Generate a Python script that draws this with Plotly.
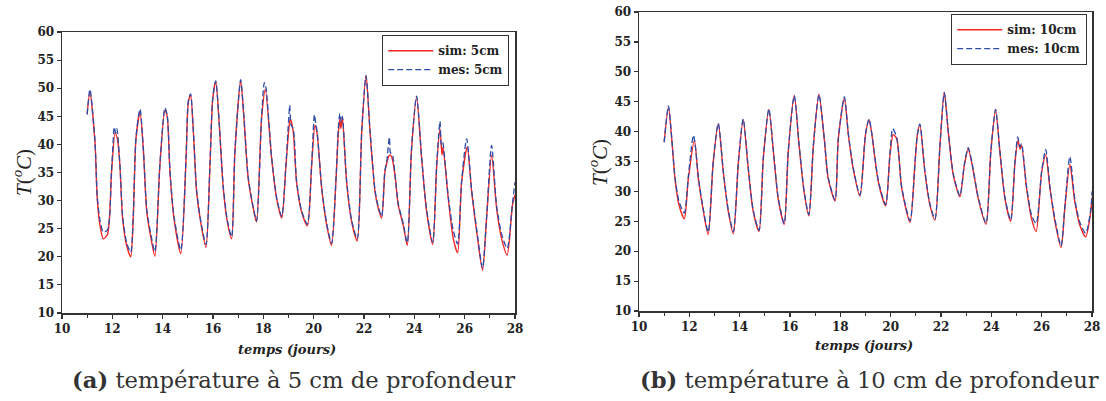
import plotly.graph_objects as go

# ---------------- data: 5 cm ----------------
sim5_t = [11.0, 11.11, 11.31, 11.40, 11.51, 11.64, 11.81, 11.97, 12.11, 12.20, 12.30, 12.41, 12.57, 12.73,
          12.83, 12.94, 13.10, 13.23, 13.37, 13.54, 13.69, 13.89, 14.09, 14.18, 14.29, 14.45, 14.72, 14.93,
          15.02, 15.11, 15.22, 15.35, 15.51, 15.72, 15.88, 15.99, 16.11, 16.25, 16.41, 16.57, 16.74, 16.87,
          17.10, 17.23, 17.40, 17.60, 17.73, 17.93, 18.08, 18.33, 18.53, 18.73, 18.90, 19.03, 19.08, 19.19,
          19.32, 19.52, 19.75, 19.92, 20.05, 20.14, 20.32, 20.52, 20.71, 20.89, 20.98, 21.04, 21.08, 21.14,
          21.31, 21.51, 21.73, 21.91, 22.08, 22.24, 22.44, 22.57, 22.70, 22.83, 22.90, 23.01, 23.10, 23.23,
          23.36, 23.56, 23.72, 23.89, 24.09, 24.29, 24.49, 24.73, 24.89, 25.02, 25.10, 25.14, 25.35, 25.55,
          25.72, 25.88, 26.10, 26.28, 26.48, 26.71, 26.87, 27.07, 27.27, 27.47, 27.69, 27.90, 28.0]
sim5_T = [45.5, 49.3, 40.4, 30.3, 25.6, 23.2, 24.0, 35.1, 42.0, 41.0, 36.3, 26.8, 22.0, 20.0,
          26.8, 41.0, 45.8, 39.2, 28.0, 23.2, 20.1, 36.3, 46.1, 45.0, 35.1, 26.8, 20.6, 37.5,
          47.5, 48.8, 42.2, 31.5, 26.2, 21.7, 36.3, 48.1, 51.2, 43.4, 32.1, 26.2, 23.2, 38.6,
          51.4, 44.6, 33.9, 28.6, 26.2, 44.6, 49.8, 37.5, 30.3, 26.9, 36.3, 43.5, 44.5, 42.2,
          33.3, 28.0, 25.5, 36.3, 43.4, 41.8, 32.1, 25.6, 22.0, 33.9, 42.0, 44.5, 42.8, 44.9,
          33.3, 26.2, 22.8, 42.2, 52.3, 42.2, 31.5, 28.6, 26.9, 35.1, 36.6, 38.1, 37.8, 34.5,
          29.2, 25.6, 22.0, 39.2, 48.4, 37.5, 28.0, 22.2, 36.3, 42.8, 38.1, 39.5, 30.3, 23.2,
          20.7, 33.3, 39.5, 31.5, 24.4, 17.6, 26.8, 38.1, 28.6, 23.2, 20.3, 29.2, 31.0]

mes5_t = [11.0, 11.11, 11.31, 11.40, 11.51, 11.64, 11.81, 11.97, 12.08, 12.13, 12.18, 12.30, 12.41, 12.57,
          12.73, 12.83, 12.94, 13.10, 13.23, 13.37, 13.54, 13.69, 13.89, 14.09, 14.18, 14.29, 14.45, 14.72,
          14.93, 15.02, 15.11, 15.22, 15.35, 15.51, 15.72, 15.88, 15.99, 16.11, 16.25, 16.41, 16.57, 16.74,
          16.87, 17.10, 17.23, 17.40, 17.60, 17.73, 17.93, 18.04, 18.10, 18.33, 18.53, 18.73, 18.90, 19.00,
          19.05, 19.10, 19.19, 19.32, 19.52, 19.75, 19.92, 20.03, 20.08, 20.14, 20.32, 20.52, 20.71, 20.89,
          20.98, 21.04, 21.09, 21.14, 21.31, 21.51, 21.73, 21.91, 22.08, 22.24, 22.44, 22.57, 22.70, 22.83,
          22.90, 23.01, 23.05, 23.12, 23.23, 23.36, 23.56, 23.72, 23.89, 24.09, 24.29, 24.49, 24.73, 24.89,
          25.02, 25.07, 25.12, 25.35, 25.55, 25.72, 25.88, 26.08, 26.28, 26.48, 26.71, 26.87, 27.07, 27.27,
          27.47, 27.69, 27.90, 28.0]
mes5_T = [45.3, 49.8, 40.6, 30.8, 26.5, 24.4, 24.8, 35.5, 43.1, 42.0, 42.8, 36.5, 27.2, 22.5,
          20.8, 27.0, 41.3, 46.3, 39.4, 28.3, 23.8, 20.9, 36.5, 46.5, 45.2, 35.3, 27.2, 21.2,
          37.8, 47.8, 49.0, 42.4, 31.8, 26.5, 22.2, 36.6, 48.3, 51.3, 43.6, 32.4, 26.5, 23.6,
          38.8, 51.5, 44.8, 34.1, 28.8, 26.4, 44.8, 51.0, 50.2, 37.7, 30.5, 27.2, 36.5, 44.0,
          47.0, 43.5, 42.8, 33.5, 28.2, 25.8, 36.5, 45.3, 43.8, 42.2, 32.3, 25.9, 22.4, 34.2,
          43.0, 45.5, 44.0, 45.0, 33.5, 26.5, 23.2, 42.4, 52.2, 42.4, 31.8, 28.9, 27.2, 35.3,
          36.8, 41.3, 38.5, 38.3, 34.8, 29.5, 25.9, 22.5, 39.4, 48.6, 37.7, 28.3, 22.6, 36.5,
          44.1, 40.0, 40.5, 30.6, 24.6, 22.3, 33.5, 41.0, 31.8, 24.8, 18.0, 27.0, 39.8, 29.0,
          24.0, 21.5, 29.5, 33.3]

# ---------------- data: 10 cm ----------------
sim10_t = [11.0, 11.17, 11.30, 11.43, 11.59, 11.80, 11.96, 12.20, 12.36, 12.56, 12.75, 12.95, 13.15, 13.35,
           13.55, 13.75, 13.95, 14.14, 14.34, 14.54, 14.77, 14.94, 15.16, 15.34, 15.53, 15.77, 15.93, 16.17,
           16.36, 16.56, 16.75, 16.93, 17.15, 17.36, 17.52, 17.79, 17.92, 18.16, 18.32, 18.51, 18.78, 19.00,
           19.14, 19.24, 19.51, 19.80, 19.97, 20.10, 20.24, 20.44, 20.77, 20.97, 21.06, 21.16, 21.36, 21.56,
           21.76, 21.96, 22.13, 22.29, 22.49, 22.75, 22.93, 23.08, 23.24, 23.48, 23.79, 23.98, 24.17, 24.34,
           24.54, 24.77, 24.94, 25.06, 25.14, 25.20, 25.40, 25.60, 25.78, 26.00, 26.16, 26.33, 26.53, 26.77,
           26.93, 27.12, 27.32, 27.52, 27.75, 27.95, 28.0]
sim10_T = [38.3, 44.1, 38.8, 32.1, 27.7, 25.4, 32.1, 38.5, 32.1, 26.6, 22.8, 34.9, 41.3, 33.2,
           26.6, 22.9, 34.9, 42.0, 33.8, 26.6, 23.3, 35.5, 43.7, 36.6, 28.8, 24.5, 36.6, 46.1,
           37.7, 29.9, 25.9, 37.7, 46.3, 38.8, 32.1, 28.4, 38.8, 45.6, 39.4, 33.8, 29.2, 39.5,
           42.0, 39.9, 31.6, 27.6, 36.0, 39.5, 38.8, 30.5, 24.8, 34.9, 39.4, 41.2, 33.2, 27.7,
           25.2, 37.7, 46.6, 39.9, 32.7, 29.1, 34.4, 37.1, 34.4, 28.8, 24.5, 36.6, 43.6, 36.6,
           28.8, 25.0, 34.9, 38.5, 37.1, 37.7, 30.5, 25.4, 23.3, 33.2, 36.1, 30.5, 24.9, 20.6,
           27.7, 34.5, 28.2, 24.3, 22.4, 26.6, 29.0]

mes10_t = [11.0, 11.17, 11.30, 11.43, 11.59, 11.80, 11.96, 12.16, 12.22, 12.36, 12.56, 12.75, 12.95, 13.15,
           13.35, 13.55, 13.75, 13.95, 14.14, 14.34, 14.54, 14.77, 14.94, 15.16, 15.34, 15.53, 15.77, 15.93,
           16.17, 16.36, 16.56, 16.75, 16.93, 17.15, 17.36, 17.52, 17.79, 17.92, 18.16, 18.32, 18.51, 18.78,
           19.00, 19.14, 19.24, 19.51, 19.80, 19.97, 20.08, 20.24, 20.44, 20.77, 20.97, 21.06, 21.16, 21.36,
           21.56, 21.76, 21.96, 22.13, 22.29, 22.49, 22.75, 22.93, 23.08, 23.24, 23.48, 23.79, 23.98, 24.17,
           24.34, 24.54, 24.77, 24.94, 25.05, 25.14, 25.20, 25.40, 25.60, 25.78, 26.00, 26.16, 26.33, 26.53,
           26.77, 26.93, 27.12, 27.32, 27.52, 27.75, 27.95, 28.0]
mes10_T = [38.2, 44.3, 39.0, 32.4, 28.3, 26.4, 32.5, 39.4, 38.3, 32.3, 26.9, 23.2, 35.0, 41.4,
           33.4, 26.8, 23.3, 35.0, 42.1, 34.0, 26.8, 23.5, 35.6, 43.8, 36.8, 29.0, 24.6, 36.7,
           46.0, 37.9, 30.1, 26.1, 37.8, 46.2, 39.0, 32.3, 28.6, 38.9, 45.8, 39.6, 34.0, 29.4,
           39.6, 42.1, 40.0, 31.8, 27.8, 36.2, 40.5, 39.0, 30.7, 25.1, 35.0, 39.5, 41.3, 33.4,
           27.9, 25.4, 37.8, 46.5, 40.0, 32.9, 29.3, 34.6, 37.3, 34.6, 29.0, 24.7, 36.7, 43.7,
           36.8, 29.0, 25.2, 35.0, 39.1, 37.5, 38.0, 30.8, 26.0, 24.6, 33.4, 37.0, 30.7, 25.3,
           20.9, 27.9, 35.8, 28.6, 24.8, 23.0, 26.9, 30.0]

y_ticks = [10, 15, 20, 25, 30, 35, 40, 45, 50, 55, 60]
x_ticks = [10, 12, 14, 16, 18, 20, 22, 24, 26, 28]

RED = "#f52525"
BLUE = "#2d4ca8"
AXC = "#333333"
TICKFONT = dict(family="DejaVu Serif", size=12, color="#222222", weight="bold")

fig = go.Figure()

def add_pair(st, sT, mt, mT, xa, ya, sname, mname, leg):
    fig.add_trace(go.Scatter(x=st, y=sT, mode="lines", name=sname, xaxis=xa, yaxis=ya, legend=leg,
                             line=dict(color=RED, width=1.4, shape="spline", smoothing=0.7)))
    fig.add_trace(go.Scatter(x=mt, y=mT, mode="lines", name=mname, xaxis=xa, yaxis=ya, legend=leg,
                             line=dict(color=BLUE, width=1.3, dash="6px,3px", shape="spline", smoothing=0.7)))

add_pair(sim5_t, sim5_T, mes5_t, mes5_T, "x", "y", "sim: 5cm", "mes: 5cm", "legend")
add_pair(sim10_t, sim10_T, mes10_t, mes10_T, "x2", "y2", "sim: 10cm", "mes: 10cm", "legend2")

W, H = 1106, 401
def px(x): return x / W
def py(y): return 1 - y / H

common_x = dict(range=[10, 28], tickvals=x_ticks, showline=True, linecolor=AXC, linewidth=1.5,
                mirror=True, ticks="outside", ticklen=4, tickwidth=1.2, tickcolor=AXC,
                showgrid=False, zeroline=False, tickfont=TICKFONT, automargin=False,
                minor=dict(dtick=1, tick0=10, ticks="outside", ticklen=3, tickcolor=AXC, showgrid=False))
common_y = dict(range=[10, 60], tickvals=y_ticks, showline=True, linecolor=AXC, linewidth=1.5,
                mirror=True, ticks="outside", ticklen=4, tickwidth=1.2, tickcolor=AXC,
                showgrid=False, zeroline=False, tickfont=TICKFONT, automargin=False)

legend_style = dict(bgcolor="white", bordercolor=AXC, borderwidth=1.2,
                    font=dict(family="DejaVu Serif", size=12, color="#222222", weight="bold"),
                    tracegroupgap=0, itemwidth=45)

fig.update_layout(
    template="none",
    width=W, height=H, margin=dict(l=0, r=0, t=0, b=0, autoexpand=False),
    paper_bgcolor="white", plot_bgcolor="white", showlegend=True,
    xaxis=dict(domain=[px(62), px(515)], anchor="y", **common_x),
    yaxis=dict(domain=[py(313), py(32)], anchor="x", **common_y),
    xaxis2=dict(domain=[px(639), px(1092)], anchor="y2", **common_x),
    yaxis2=dict(domain=[py(311), py(12)], anchor="x2", **common_y),
    legend=dict(x=px(509), y=py(35), xanchor="right", yanchor="top", **legend_style),
    legend2=dict(x=px(1087), y=py(14), xanchor="right", yanchor="top", **legend_style),
)

ann = []
# y-axis titles
for xc, yc in [(22, 173), (598, 163)]:
    ann.append(dict(text="<i>T</i>(<sup><i>o</i></sup><i>C</i>)", x=px(xc), y=py(yc), xref="paper", yref="paper",
                    showarrow=False, textangle=-90, xanchor="center", yanchor="middle",
                    font=dict(family="Liberation Serif", size=21, color="#222222")))
# x-axis titles
for xc, yc in [(287, 349), (864, 345)]:
    ann.append(dict(text="<b><i>temps (jours)</i></b>", x=px(xc), y=py(yc), xref="paper", yref="paper",
                    showarrow=False, xanchor="center", yanchor="middle",
                    font=dict(family="DejaVu Serif", size=13, color="#222222")))
# captions
for txt, xc, yc in [("<b>(a)</b> température à 5 cm de profondeur", 294, 380),
                    ("<b>(b)</b> température à 10 cm de profondeur", 869, 380)]:
    ann.append(dict(text=txt, x=px(xc), y=py(yc), xref="paper", yref="paper",
                    showarrow=False, xanchor="center", yanchor="middle",
                    font=dict(family="DejaVu Serif", size=22.7, color="#333333")))
fig.update_layout(annotations=ann)

fig.write_html("out.html", config={"displayModeBar": False, "staticPlot": True},
               post_script="document.body.style.margin='0';document.body.style.overflow='hidden';")
